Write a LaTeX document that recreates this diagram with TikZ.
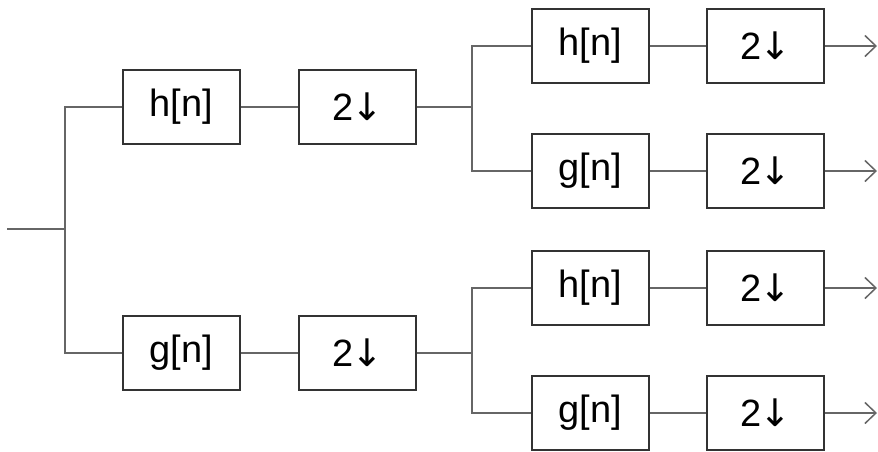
\documentclass[tikz,border=0pt]{standalone}
\usepackage{fontspec}
\setmainfont{Liberation Sans}
\newfontfamily\arrowfont{DejaVu Sans}
\usetikzlibrary{arrows.meta}
\begin{document}
\begin{tikzpicture}[x=1pt,y=1pt,
  blk/.style={draw=black!80, line width=1.8pt, minimum width=117pt, minimum height=74pt, inner sep=0pt, font=\fontsize{38}{40}\selectfont},
  wire/.style={draw=black!60, line width=1.5pt},
  outarrow/.style={wire, -{Straight Barb[length=11pt,width=21pt,line width=1.5pt]}}]
\newcommand{\dn}{2{\arrowfont\kern-2pt↓}}
\useasboundingbox (0,0) rectangle (878,-451);
\coordinate (in) at (7,-229);
\coordinate (j1) at (65,-229);
\node[blk] (H1) at (181.5,-107) {h[n]};
\node[blk] (D1) at (357.5,-107) {\dn};
\node[blk] (G1) at (181.5,-353) {g[n]};
\node[blk] (D2) at (357.5,-353) {\dn};
\coordinate (j2) at (472,-107);
\coordinate (j3) at (472,-353);
\node[blk] (H2) at (590.5,-46) {h[n]};
\node[blk] (D3) at (765.5,-46) {\dn};
\node[blk] (G2) at (590.5,-171) {g[n]};
\node[blk] (D4) at (765.5,-171) {\dn};
\node[blk] (H3) at (590.5,-288) {h[n]};
\node[blk] (D5) at (765.5,-288) {\dn};
\node[blk] (G3) at (590.5,-413) {g[n]};
\node[blk] (D6) at (765.5,-413) {\dn};
\coordinate (o1) at (877,-46);
\coordinate (o2) at (877,-171);
\coordinate (o3) at (877,-288);
\coordinate (o4) at (877,-413);
\draw[wire] (in) -- (j1);
\draw[wire] (j1) |- (H1);
\draw[wire] (j1) |- (G1);
\draw[wire] (H1) -- (D1);
\draw[wire] (G1) -- (D2);
\draw[wire] (D1) -- (j2);
\draw[wire] (D2) -- (j3);
\draw[wire] (j2) |- (H2);
\draw[wire] (j2) |- (G2);
\draw[wire] (j3) |- (H3);
\draw[wire] (j3) |- (G3);
\draw[wire] (H2) -- (D3);
\draw[wire] (G2) -- (D4);
\draw[wire] (H3) -- (D5);
\draw[wire] (G3) -- (D6);
\draw[outarrow] (D3) -- (o1);
\draw[outarrow] (D4) -- (o2);
\draw[outarrow] (D5) -- (o3);
\draw[outarrow] (D6) -- (o4);
\end{tikzpicture}
\end{document}
